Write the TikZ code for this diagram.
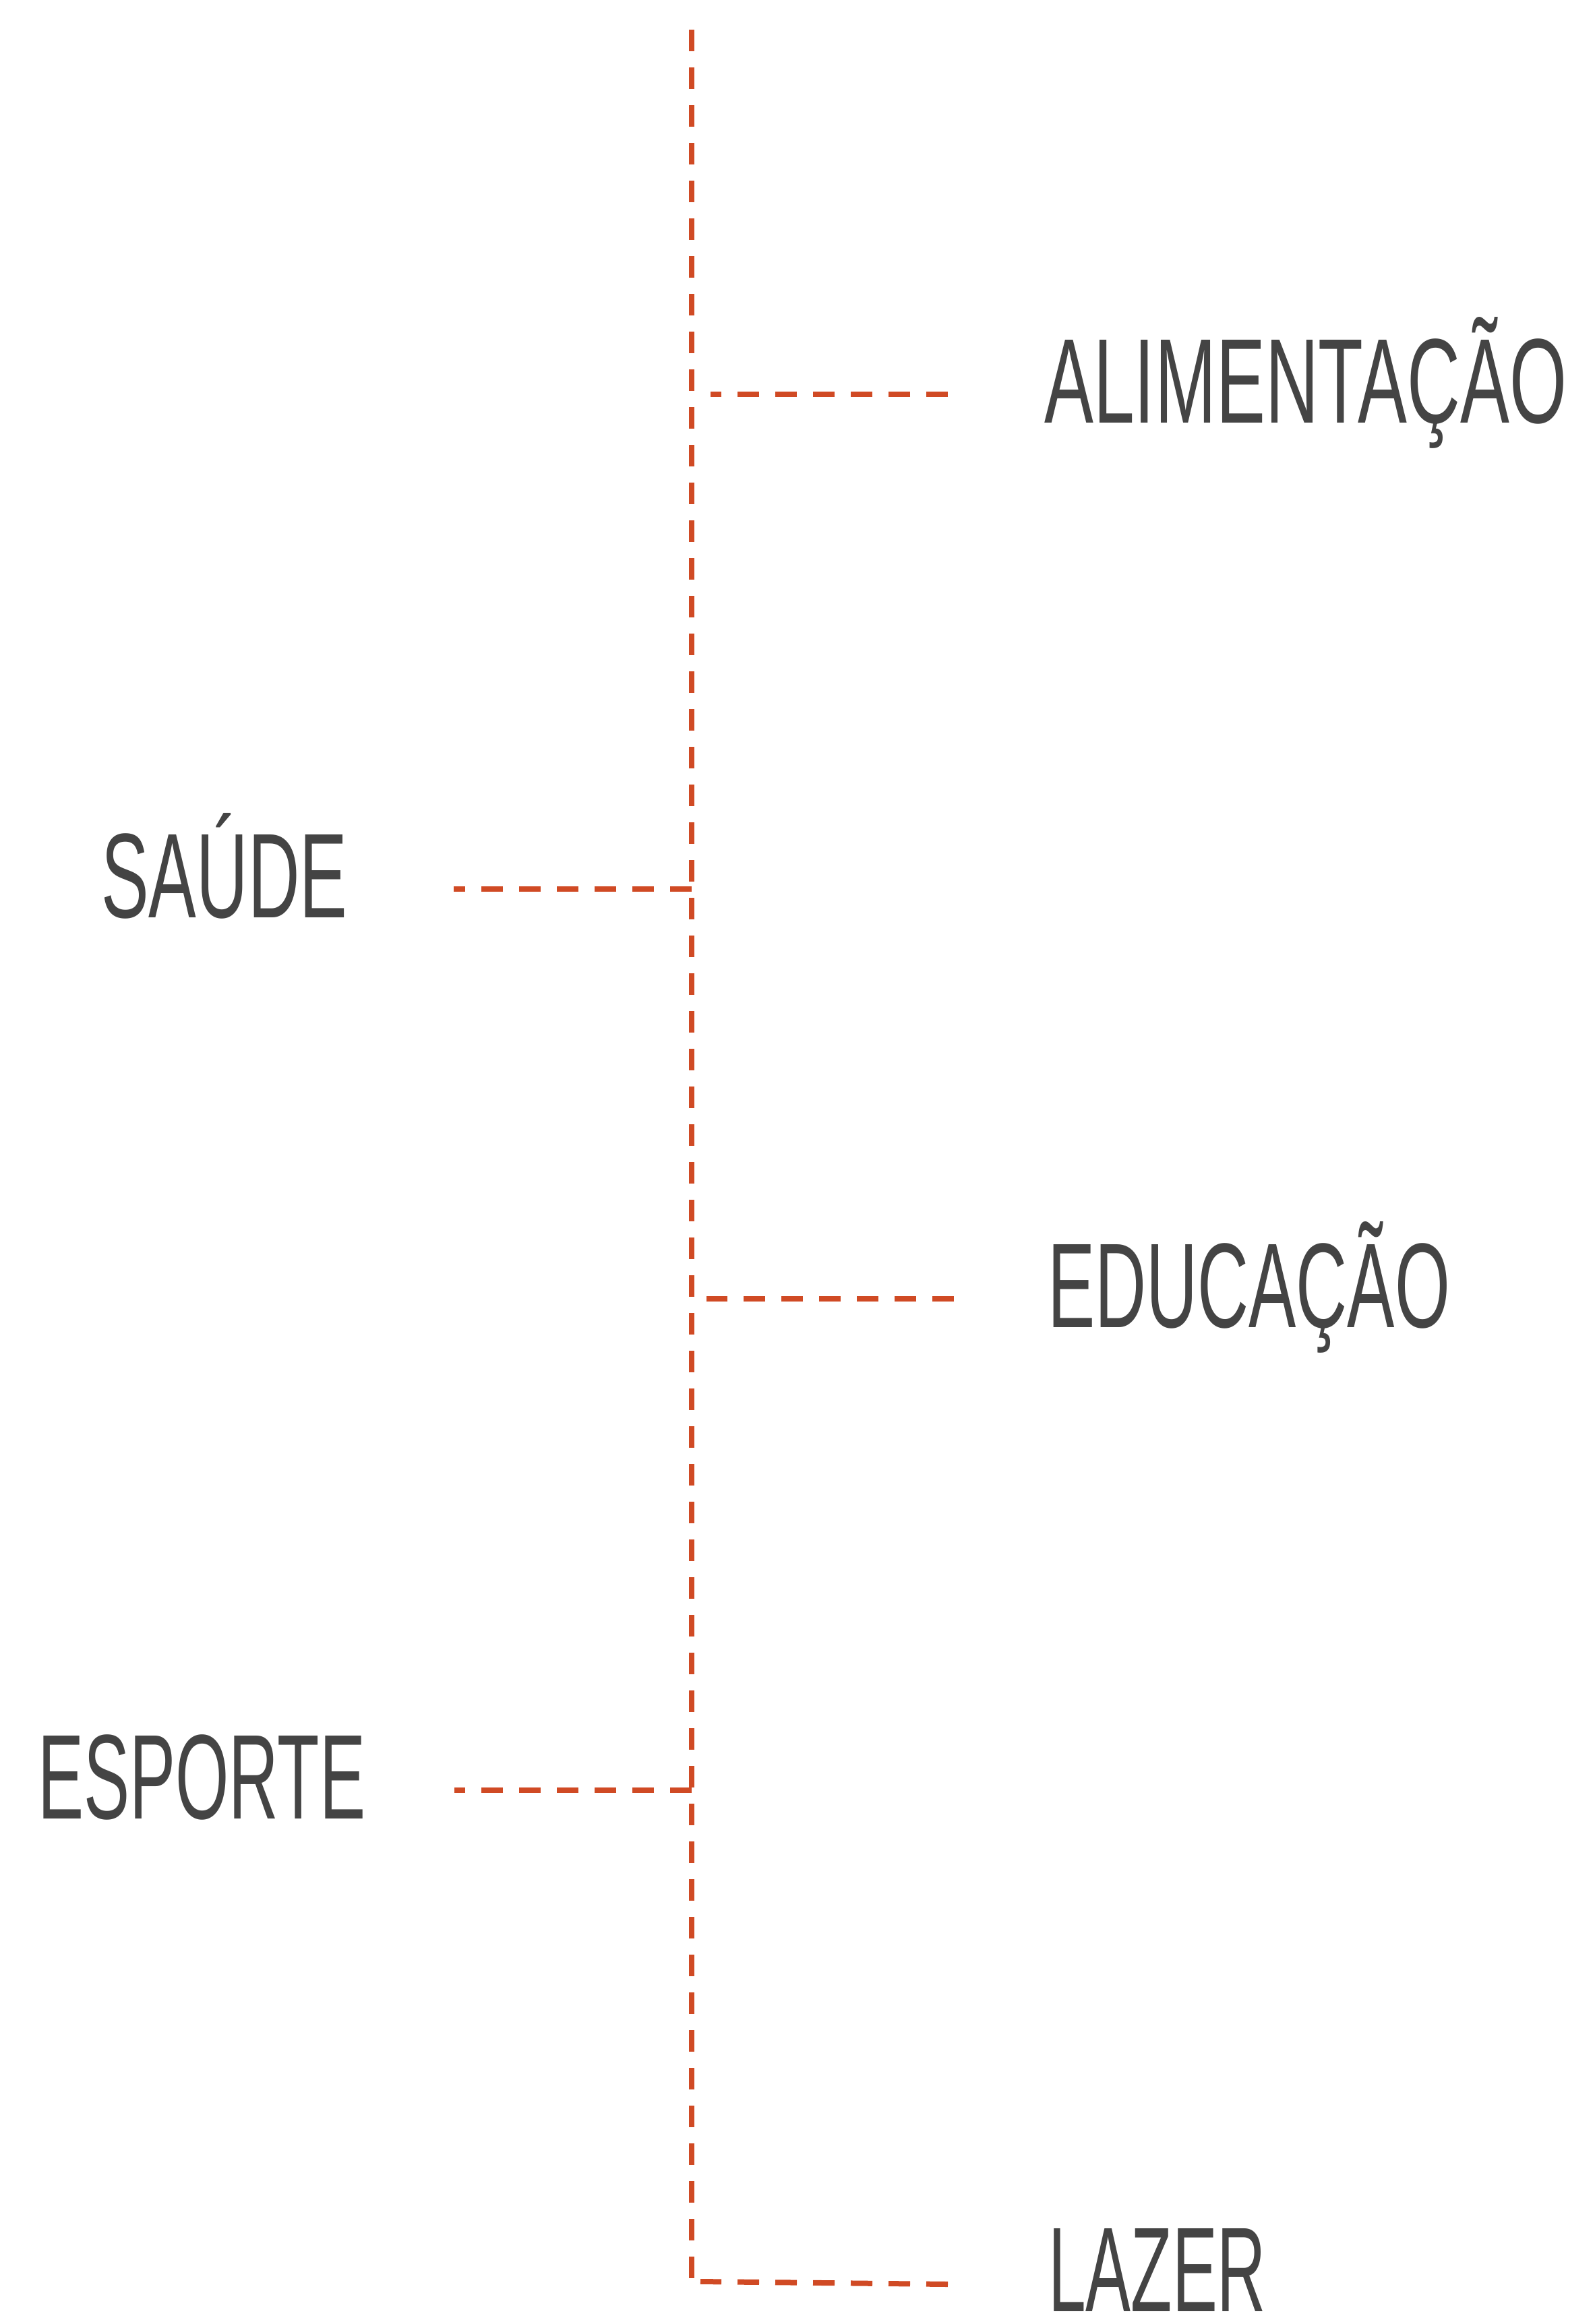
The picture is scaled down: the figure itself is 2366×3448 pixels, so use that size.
\documentclass[tikz,border=0pt]{standalone}
\usepackage{fontspec}
\usepackage{graphicx}
\setmainfont{Liberation Sans}
\definecolor{trunkred}{HTML}{D04A24}
\definecolor{labgray}{HTML}{444444}
\newcommand\labtxt[2]{\resizebox{#1}{\height}{\fontsize{178.8}{200}\selectfont #2}}
\begin{document}
\begin{tikzpicture}[x=1pt,y=-1pt,
  branch/.style={draw=trunkred,line width=8pt,dash pattern=on 32pt off 24pt},
  label/.style={text=labgray,inner sep=0pt,anchor=base west}]
\useasboundingbox (0,0) rectangle (2366,3448);
% trunk
\coordinate (top) at (1026,44);
\coordinate (bot) at (1026,3380);
\draw[branch] (top) -- (bot);
% labels
\node[label] (ali) at (1549,627) {\labtxt{775pt}{ALIMENTAÇÃO}};
\node[label] (sau) at (150,1361) {\labtxt{365pt}{SAÚDE}};
\node[label] (edu) at (1554,1969) {\labtxt{597pt}{EDUCAÇÃO}};
\node[label] (esp) at (56,2698) {\labtxt{486pt}{ESPORTE}};
\node[label] (laz) at (1555,3429) {\labtxt{323pt}{LAZER}};
% branch ends
\coordinate (aliA) at (1406,585); \coordinate (aliB) at (1054,585);
\coordinate (sauA) at (1026,1319); \coordinate (sauB) at (673,1319);
\coordinate (eduA) at (1415,1927); \coordinate (eduB) at (1048,1927);
\coordinate (espA) at (1026,2656); \coordinate (espB) at (674,2656);
\coordinate (lazA) at (1406,3389); \coordinate (lazB) at (1039,3385);
\draw[branch] (aliA) -- (aliB);
\draw[branch] (sauA) -- (sauB);
\draw[branch] (eduA) -- (eduB);
\draw[branch] (espA) -- (espB);
\draw[branch] (lazA) -- (lazB);
\end{tikzpicture}
\end{document}
